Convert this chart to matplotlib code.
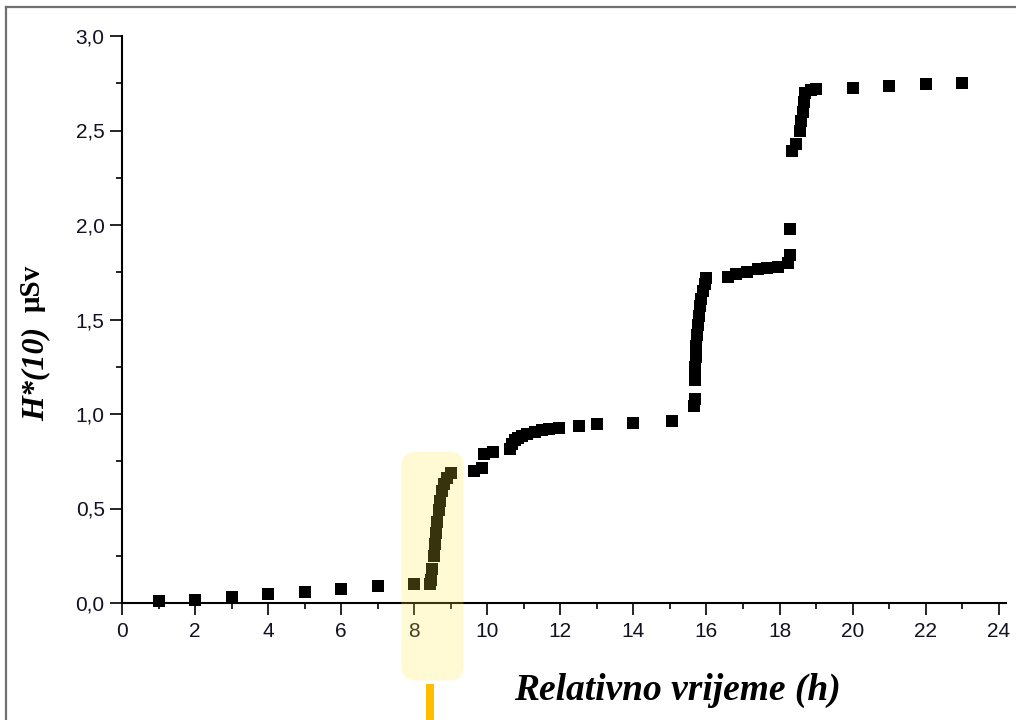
import matplotlib
matplotlib.use("Agg")
import matplotlib.pyplot as plt
from matplotlib.ticker import MultipleLocator, FuncFormatter
from matplotlib.patches import FancyBboxPatch
from matplotlib.lines import Line2D

# ---- data (hours, H*(10) in uSv) ----
hours = [1, 2, 3, 4, 5, 6, 7, 8.0,
         8.43, 8.47, 8.50, 8.53, 8.56, 8.59, 8.63, 8.67, 8.71, 8.76, 8.82, 8.9, 9.0,
         9.63, 9.85, 9.9, 10.15,
         10.62, 10.68, 10.76, 10.85, 10.95, 11.1, 11.3, 11.5, 11.7, 11.95, 12.5, 13.0, 14.0, 15.05,
         15.65, 15.68, 15.68, 15.68, 15.68, 15.7,
         15.72, 15.74, 15.76, 15.79, 15.82, 15.86, 15.9, 15.95, 15.98,
         16.58, 16.8, 17.1, 17.4, 17.65, 17.95, 18.22, 18.28, 18.3,
         18.33, 18.45, 18.55, 18.6, 18.64, 18.67, 18.71, 18.85, 18.99,
         20, 21, 22, 23]
dose = [0.01, 0.015, 0.03, 0.048, 0.06, 0.075, 0.088, 0.10,
        0.10, 0.12, 0.18, 0.25, 0.31, 0.37, 0.43, 0.49, 0.54, 0.59, 0.63, 0.66, 0.69,
        0.70, 0.715, 0.79, 0.80,
        0.815, 0.84, 0.86, 0.875, 0.885, 0.895, 0.905, 0.913, 0.92, 0.925, 0.935, 0.947, 0.952, 0.963,
        1.04, 1.08, 1.18, 1.22, 1.25, 1.30,
        1.36, 1.42, 1.47, 1.52, 1.57, 1.61, 1.65, 1.69, 1.72,
        1.725, 1.74, 1.75, 1.765, 1.775, 1.78, 1.80, 1.84, 1.98,
        2.39, 2.43, 2.50, 2.55, 2.60, 2.65, 2.70, 2.715, 2.72,
        2.725, 2.735, 2.746, 2.75]

x_ticks = [0, 2, 4, 6, 8, 10, 12, 14, 16, 18, 20, 22, 24]
y_ticks = [0.0, 0.5, 1.0, 1.5, 2.0, 2.5, 3.0]
x_label = "Relativno vrijeme (h)"
y_label_main = "H*(10)"
y_label_unit = "\u03bcSv"

# highlighted region (data coordinates) and marker line position
hl_x = (7.65, 9.35)
hl_y = (-0.41, 0.80)
mark_x = 8.43

W, H = 1016, 720
fig = plt.figure(figsize=(W / 100, H / 100), dpi=100)
fig.patch.set_facecolor("white")
ax = fig.add_axes([122 / W, 1 - 603 / H, (1006 - 122) / W, (603 - 36) / H])

ax.plot(hours, dose, linestyle="none", marker="s", markersize=9,
        color="black", markeredgewidth=0, clip_on=False, zorder=3)

ax.set_xlim(0, 24.2)
ax.set_ylim(0, 3.0)
ax.set_xticks(x_ticks)
ax.set_yticks(y_ticks)
ax.xaxis.set_minor_locator(MultipleLocator(1))
ax.yaxis.set_minor_locator(MultipleLocator(0.25))
ax.xaxis.set_major_formatter(FuncFormatter(lambda v, p: f"{v:g}"))
ax.yaxis.set_major_formatter(FuncFormatter(lambda v, p: f"{v:.1f}".replace(".", ",")))

for s in ["top", "right"]:
    ax.spines[s].set_visible(False)
for s in ["left", "bottom"]:
    ax.spines[s].set_linewidth(1.5)

ax.tick_params(which="major", direction="out", length=8.5, width=1.2,
               labelsize=15, labelcolor="#111122")
ax.tick_params(which="minor", direction="out", length=4.5, width=1.2)
ax.tick_params(axis="x", which="major", pad=5)
ax.tick_params(axis="y", which="major", pad=4)
for lab in ax.get_xticklabels() + ax.get_yticklabels():
    lab.set_fontfamily("Liberation Sans")
    lab.set_fontsize(15)

# axis labels
fig.text(677 / W, 1 - 690 / H, x_label, ha="center", va="center",
         fontfamily="Liberation Serif", fontweight="bold", fontstyle="italic",
         fontsize=27)
fig.text(50 / W, 1 - 421 / H, y_label_main, rotation=90, ha="right", va="bottom",
         fontfamily="Liberation Serif", fontweight="bold", fontstyle="italic",
         fontsize=23)
fig.text(46 / W, 1 - 312 / H, y_label_unit, rotation=90, ha="right", va="bottom",
         fontfamily="Liberation Serif", fontweight="bold",
         fontsize=21)

# highlight box (on top of marks)
fig.canvas.draw()
to_fig = ax.transData + fig.transFigure.inverted()
(x0, y0) = to_fig.transform((hl_x[0], hl_y[0]))
(x1, y1) = to_fig.transform((hl_x[1], hl_y[1]))
box = FancyBboxPatch((x0, y0), x1 - x0, y1 - y0,
                     boxstyle=f"round,pad=0,rounding_size={14 / W}",
                     mutation_aspect=W / H,
                     transform=fig.transFigure, facecolor="#FFEB3B", alpha=0.22,
                     edgecolor="none", zorder=20)
fig.add_artist(box)

# orange marker line below the highlight
mx = to_fig.transform((mark_x, 0))[0]
fig.add_artist(Line2D([mx, mx], [0, 1 - 684 / H], transform=fig.transFigure,
                      color="#FFBF00", linewidth=5.8, solid_capstyle="butt", zorder=21))

# outer frame (left and top edges)
fig.add_artist(Line2D([6 / W, 6 / W], [0, 1 - 7 / H], transform=fig.transFigure,
                      color="#707070", linewidth=1.6, zorder=30))
fig.add_artist(Line2D([6 / W, 1], [1 - 7 / H, 1 - 7 / H], transform=fig.transFigure,
                      color="#707070", linewidth=1.6, zorder=30))

fig.savefig("out.png", dpi=100, facecolor="white")
